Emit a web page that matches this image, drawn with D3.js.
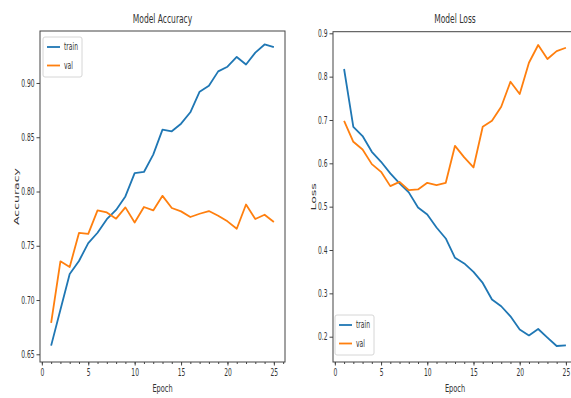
<!DOCTYPE html>
<html>
<head>
<meta charset="utf-8">
<script src="https://cdn.jsdelivr.net/npm/d3@7"></script>
<style>
  html, body { margin: 0; padding: 0; background: #fff; }
  svg { display: block; }
  text { font-family: "DejaVu Sans", sans-serif; fill: #333; }
</style>
</head>
<body>
<svg id="chart" width="571" height="398"></svg>
<script>
// Training history, one value per epoch
const epochs = d3.range(1, 26);

const trainAcc = [0.658, 0.691, 0.724, 0.736, 0.7525, 0.762, 0.7745, 0.783, 0.7955, 0.817,
  0.818, 0.834, 0.857, 0.8555, 0.8625, 0.873, 0.892, 0.8975, 0.9107, 0.915,
  0.924, 0.917, 0.928, 0.9355, 0.933];
const valAcc = [0.679, 0.7357, 0.7305, 0.7618, 0.761, 0.7826, 0.7807, 0.775, 0.7854, 0.7715,
  0.7857, 0.7826, 0.796, 0.7848, 0.7817, 0.7765, 0.7795, 0.782, 0.7777, 0.7725,
  0.7657, 0.788, 0.7747, 0.7786, 0.7719];

const trainLoss = [0.8176, 0.6843, 0.663, 0.6266, 0.6035, 0.5767, 0.5536, 0.533, 0.4982, 0.482,
  0.452, 0.4266, 0.382, 0.369, 0.3495, 0.324, 0.2857, 0.2702, 0.247, 0.2164,
  0.203, 0.2178, 0.198, 0.1785, 0.180];
const valLoss = [0.6982, 0.6497, 0.632, 0.5982, 0.5804, 0.5474, 0.5573, 0.5381, 0.5397, 0.555,
  0.5497, 0.555, 0.6404, 0.6136, 0.5905, 0.6843, 0.698, 0.7305, 0.7882, 0.7598,
  0.832, 0.873, 0.8406, 0.859, 0.8667];

const xTicks = [0, 5, 10, 15, 20, 25];
const accTicks = [0.65, 0.70, 0.75, 0.80, 0.85, 0.90];
const lossTicks = [0.2, 0.3, 0.4, 0.5, 0.6, 0.7, 0.8, 0.9];
const seriesNames = ["train", "val"];

const colors = { train: "#1f77b4", val: "#ff7f0e" };
const SX = 0.6;   // horizontal squeeze applied to all text

const svg = d3.select("#chart");

function squeezeText(sel) {
  sel.each(function () {
    const t = d3.select(this);
    const x = +t.attr("x") || 0;
    t.attr("x", x / SX).attr("transform", `scale(${SX},1)`);
  });
}

function panel(opts) {
  const { left, right, top, bottom, yDomain, yTicks, yFmt, title, yLabel,
          train, val, legend, labelX } = opts;
  const x = d3.scaleLinear().domain([-0.2, 26.2]).range([left, right]);
  const y = d3.scaleLinear().domain(yDomain).range([bottom, top]);
  const g = svg.append("g");

  // frame
  g.append("rect")
    .attr("x", left).attr("y", top)
    .attr("width", right - left).attr("height", bottom - top)
    .attr("fill", "none").attr("stroke", "#444").attr("stroke-width", 1);

  // minor x ticks at every epoch
  const minor = g.append("g").attr("transform", `translate(0,${bottom})`)
    .call(d3.axisBottom(x).tickValues(d3.range(0, 27)).tickSize(2).tickFormat(""));
  minor.select(".domain").remove();
  minor.selectAll("line").attr("stroke", "#444");

  const xa = g.append("g").attr("transform", `translate(0,${bottom})`)
    .call(d3.axisBottom(x).tickValues(xTicks).tickSize(3.5).tickPadding(3).tickFormat(d3.format("d")));
  xa.select(".domain").remove();
  xa.selectAll("line").attr("stroke", "#444");
  xa.selectAll("text").attr("font-size", 10).attr("fill", "#333").call(squeezeText);

  const ya = g.append("g").attr("transform", `translate(${left},0)`)
    .call(d3.axisLeft(y).tickValues(yTicks).tickSize(3.5).tickPadding(2).tickFormat(d3.format(yFmt)));
  ya.select(".domain").remove();
  ya.selectAll("line").attr("stroke", "#444");
  ya.selectAll("text").attr("font-size", 10).attr("fill", "#333").call(squeezeText);

  // title and axis labels
  g.append("text")
    .attr("transform", `translate(${(left + right) / 2},23) scale(0.58,1)`)
    .attr("text-anchor", "middle").attr("font-size", 13).text(title);
  g.append("text")
    .attr("transform", `translate(${(left + right) / 2 - (right > 571 ? 0 : 0)},392) scale(${SX},1)`)
    .attr("text-anchor", "middle").attr("font-size", 11).text("Epoch");
  g.append("text")
    .attr("transform", `translate(${labelX},${(top + bottom) / 2}) scale(${SX},1) rotate(-90)`)
    .attr("text-anchor", "middle").attr("font-size", 12.5).text(yLabel);

  // lines
  const line = d3.line().x((d, i) => x(epochs[i])).y(d => y(d));
  [["train", train], ["val", val]].forEach(([name, data]) => {
    g.append("path").datum(data)
      .attr("d", line).attr("fill", "none")
      .attr("stroke", colors[name]).attr("stroke-width", 1.8)
      .attr("stroke-linejoin", "round");
  });

  // legend
  const lg = g.append("g").attr("transform", `translate(${legend.x},${legend.y})`);
  lg.append("rect").attr("width", 39).attr("height", 40).attr("rx", 2)
    .attr("fill", "rgba(255,255,255,0.85)").attr("stroke", "#d6d6d6").attr("stroke-width", 1);
  seriesNames.forEach((name, i) => {
    const yy = 10 + i * 18.5;
    lg.append("line").attr("x1", 4).attr("x2", 17).attr("y1", yy).attr("y2", yy)
      .attr("stroke", colors[name]).attr("stroke-width", 1.8);
    lg.append("text").attr("x", 21 / SX).attr("y", yy + 3.5)
      .attr("transform", `scale(${SX},1)`).attr("font-size", 10).text(name);
  });
}

panel({
  left: 40, right: 285, top: 31, bottom: 362,
  yDomain: [0.6429, 0.9479], yTicks: accTicks, yFmt: ".2f",
  title: "Model Accuracy", yLabel: "Accuracy",
  train: trainAcc, val: valAcc,
  legend: { x: 43, y: 37 }, labelX: 19
});

panel({
  left: 333, right: 577, top: 31.7, bottom: 362,
  yDomain: [0.1416, 0.9037], yTicks: lossTicks, yFmt: ".1f",
  title: "Model Loss", yLabel: "Loss",
  train: trainLoss, val: valLoss,
  legend: { x: 335, y: 315 }, labelX: 316
});
</script>
</body>
</html>
